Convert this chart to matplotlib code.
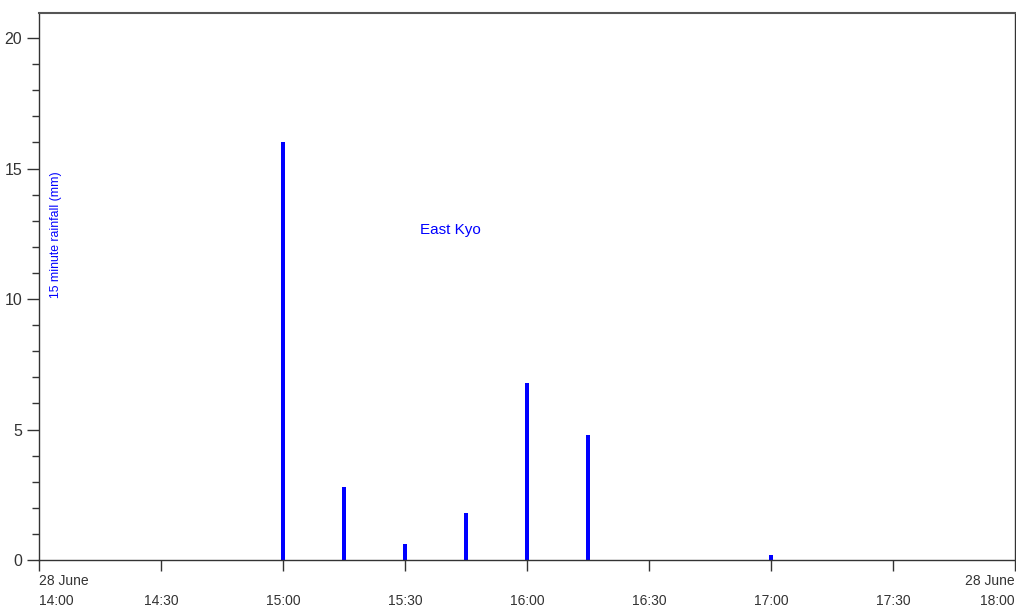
import matplotlib
matplotlib.use("Agg")
import matplotlib.pyplot as plt
from matplotlib.ticker import MultipleLocator

# 15 minute rainfall at East Kyo, 28 June (hours as decimal time of day)
bar_hours = [15.0, 15.25, 15.5, 15.75, 16.0, 16.25, 17.0]
rain_mm = [16.0, 2.8, 0.6, 1.8, 6.8, 4.8, 0.2]

tick_hours = [14.0, 14.5, 15.0, 15.5, 16.0, 16.5, 17.0, 17.5, 18.0]
tick_labels = ["28 June\n14:00", "\n14:30", "\n15:00", "\n15:30", "\n16:00",
               "\n16:30", "\n17:00", "\n17:30", "28 June\n18:00"]

plt.rcParams["font.family"] = ["Liberation Sans", "DejaVu Sans"]

fig = plt.figure(figsize=(10.16, 6.1), dpi=100)
ax = fig.add_axes([39 / 1016, 50 / 610, 976 / 1016, 547 / 610])

ax.bar(bar_hours, rain_mm, width=0.0145, color="#0000ff", linewidth=0)

ax.set_xlim(14.0, 18.0)
ax.set_ylim(0, 20.96)

ax.set_xticks(tick_hours)
ax.set_xticklabels(tick_labels, fontsize=10, color="#333333", linespacing=1.6)
labels = ax.get_xticklabels()
labels[0].set_horizontalalignment("left")
labels[-1].set_horizontalalignment("right")

ax.yaxis.set_major_locator(MultipleLocator(5))
ax.yaxis.set_minor_locator(MultipleLocator(1))
ax.tick_params(axis="y", which="major", length=9, width=1, color="#333333",
               labelsize=11.5, labelcolor="#333333", pad=3)
ax.tick_params(axis="y", which="minor", length=5, width=1, color="#333333")
ax.tick_params(axis="x", which="major", length=8, width=1, color="#333333", pad=2)

for side in ["left", "bottom", "right"]:
    ax.spines[side].set_color("#333333")
    ax.spines[side].set_linewidth(1)
ax.spines["top"].set_color("#555555")
ax.spines["top"].set_linewidth(1.5)

ax.text(0.0175, 0.594, "15 minute rainfall (mm)", transform=ax.transAxes,
        rotation=90, fontsize=8.8, color="#0000ff", ha="center", va="center")
ax.text(0.422, 0.603, "East Kyo", transform=ax.transAxes,
        fontsize=11, color="#0000ff", ha="center", va="center")

fig.savefig("out.png", dpi=100)
